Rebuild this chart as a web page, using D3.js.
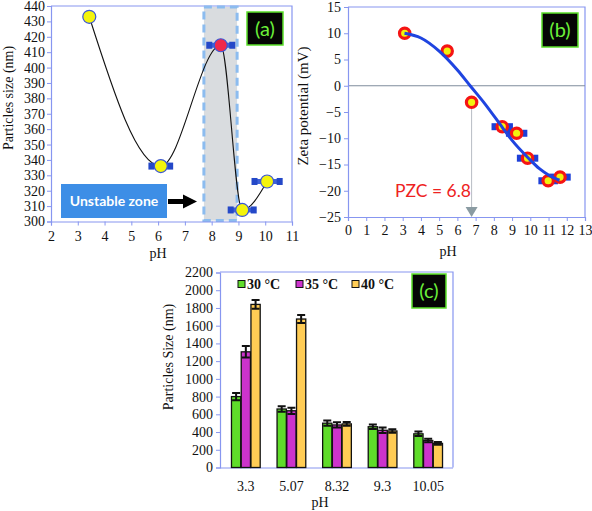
<!DOCTYPE html>
<html><head><meta charset="utf-8">
<script src="https://cdn.jsdelivr.net/npm/d3@7"></script>
<style>
body{margin:0;background:#fff;}
svg{display:block;}
</style></head>
<body>
<svg id="c" width="592" height="511"></svg>
<script>
// ---------- Panel (a) data ----------
const aPH = [3.43, 6.10, 8.34, 9.14, 10.07];
const aSize = [433, 336, 414.5, 307.5, 326];
const aErr = [0, 0.35, 0.43, 0.43, 0.47];
const aRed = [false, false, true, false, false];
const aXTicks = [2,3,4,5,6,7,8,9,10,11];
const aYTicks = [300,310,320,330,340,350,360,370,380,390,400,410,420,430,440];
const aZone = [7.71, 8.95];

// ---------- Panel (b) data ----------
const bPH = [3.11, 5.44, 6.78, 8.46, 9.25, 9.85, 10.98, 11.63];
const bZeta = [10, 6.6, -3.15, -7.8, -9.05, -13.8, -18.1, -17.4];
const bErr = [0, 0, 0, 0.45, 0.45, 0.45, 0.4, 0.45];
const bFitPH = [3.1, 4, 5, 6, 6.7, 7.5, 8.5, 9, 9.9, 10.5, 11, 11.6];
const bFitZeta = [10, 9.1, 6.6, 3, 0, -3.4, -8.1, -10.4, -13.8, -15.8, -17, -18];
const bXTicks = [0,1,2,3,4,5,6,7,8,9,10,11,12,13];
const bYTicks = [15,10,5,0,-5,-10,-15,-20,-25];
const bPZC = 6.78;

// ---------- Panel (c) data ----------
const cCats = ["3.3","5.07","8.32","9.3","10.05"];
const cSeries = ["30 °C","35 °C","40 °C"];
const c30 = [800, 660, 500, 460, 380];
const c35 = [1305, 640, 480, 420, 305];
const c40 = [1840, 1675, 492, 412, 272];
const c30err = [40, 30, 30, 25, 25];
const c35err = [65, 35, 30, 30, 20];
const c40err = [50, 45, 20, 20, 15];
const cYTicks = [0,200,400,600,800,1000,1200,1400,1600,1800,2000,2200];

const SERIF = '"Liberation Serif","Times New Roman",serif';
const SANS = 'Lato,"Open Sans",sans-serif';
const axisCol = "#8796f0";
const svg = d3.select("#c");

function styleAxis(g){
  g.attr("font-family", SERIF).attr("font-size", 14);
  g.select(".domain").attr("stroke", axisCol).attr("stroke-width",1.2);
  g.selectAll(".tick line").attr("stroke", axisCol);
  g.selectAll(".tick text").attr("fill","#111").style("font-family",SERIF).style("font-size","14px");
}
function txt(x,y,t,size,opts={}){
  const e = svg.append("text").attr("x",x).attr("y",y).text(t)
    .style("font-family",opts.sans?SANS:SERIF).style("font-size",size+"px")
    .attr("fill",opts.fill||"#111").attr("text-anchor",opts.anchor||"middle");
  if(opts.bold) e.style("font-weight","bold");
  if(opts.rot) e.attr("x",null).attr("y",null).attr("transform",`translate(${x},${y}) rotate(-90)`);
  return e;
}
function labelBox(x,y,w,h,t){
  svg.append("rect").attr("x",x).attr("y",y).attr("width",w).attr("height",h)
    .attr("fill","#050505").attr("stroke","#5be02a").attr("stroke-width",1.5);
  txt(x+w/2,y+h/2+7,t,20,{sans:true,fill:"#6cf03a"});
}

// ================= Panel (a) =================
{
  const x = d3.scaleLinear().domain([2,11]).range([51,292]);
  const y = d3.scaleLinear().domain([300,440]).range([221.5,6]);
  svg.append("path").attr("d",`M${x(2)},${y(440)}H${x(11)}V${y(300)}`).attr("fill","none").attr("stroke",axisCol).attr("stroke-width",1.2);
  svg.append("rect").attr("x",x(aZone[0])).attr("y",y(440)+1).attr("width",x(aZone[1])-x(aZone[0])).attr("height",y(300)-y(440)-2)
    .attr("fill","#d9dcdf").attr("stroke","#8cbcef").attr("stroke-width",3).attr("stroke-dasharray","8,5");
  const gx = svg.append("g").attr("transform",`translate(0,${y(300)})`)
    .call(d3.axisBottom(x).tickValues(aXTicks).tickSize(4).tickPadding(6));
  styleAxis(gx);
  const gy = svg.append("g").attr("transform",`translate(${x(2)},0)`)
    .call(d3.axisLeft(y).tickValues(aYTicks).tickSize(4).tickPadding(2));
  styleAxis(gy);
  const pts = aPH.map((p,i)=>[x(p),y(aSize[i])]);
  svg.append("path").attr("d",d3.line().curve(d3.curveMonotoneX)(pts))
    .attr("fill","none").attr("stroke","#111").attr("stroke-width",1.1);
  aPH.forEach((p,i)=>{
    if(!aErr[i]) return;
    const yy=y(aSize[i]);
    svg.append("line").attr("x1",x(p-aErr[i])).attr("x2",x(p+aErr[i])).attr("y1",yy).attr("y2",yy)
      .attr("stroke","#3f63d8").attr("stroke-width",5);
    [p-aErr[i],p+aErr[i]].forEach(e=>svg.append("rect").attr("x",x(e)-3).attr("y",yy-3.5).attr("width",6).attr("height",7).attr("fill","#2448c8"));
  });
  aPH.forEach((p,i)=>{
    svg.append("circle").attr("cx",x(p)).attr("cy",y(aSize[i])).attr("r",6.5)
      .attr("fill",aRed[i]?"#f0284a":"#f4f40c").attr("stroke","#3b57d6").attr("stroke-width",1.2);
  });
  svg.append("rect").attr("x",61).attr("y",184).attr("width",106).attr("height",34).attr("fill","#3d8ee6");
  txt(114,206,"Unstable zone",14,{sans:true,bold:true,fill:"#fff"});
  svg.append("line").attr("x1",168).attr("x2",186).attr("y1",201.5).attr("y2",201.5).attr("stroke","#000").attr("stroke-width",5);
  svg.append("path").attr("d","M183,194.5L197,201.5L183,208.5Z").attr("fill","#000");
  labelBox(247,12,36,33,"(a)");
  txt(13,98,"Particles size (nm)",14,{rot:true});
  txt(158,258,"pH",14);
}

// ================= Panel (b) =================
{
  const x = d3.scaleLinear().domain([0,13]).range([348,585]);
  const y = d3.scaleLinear().domain([-25,15]).range([217,7]);
  svg.append("path").attr("d",`M${x(0)},${y(15)}H${x(13)}V${y(-25)}`).attr("fill","none").attr("stroke",axisCol).attr("stroke-width",1.2);
  svg.append("line").attr("x1",x(0)).attr("x2",x(13)).attr("y1",y(0)).attr("y2",y(0)).attr("stroke","#7f8c9c").attr("stroke-width",1.2);
  const gx = svg.append("g").attr("transform",`translate(0,${y(-25)})`)
    .call(d3.axisBottom(x).tickValues(bXTicks).tickSize(4).tickPadding(4));
  styleAxis(gx);
  const gy = svg.append("g").attr("transform",`translate(${x(0)},0)`)
    .call(d3.axisLeft(y).tickValues(bYTicks).tickSize(4).tickPadding(3));
  styleAxis(gy);
  const pi = 2;
  svg.append("line").attr("x1",x(bPZC)).attr("x2",x(bPZC)).attr("y1",y(bZeta[pi])).attr("y2",y(-25)-8)
    .attr("stroke","#b8bcc4").attr("stroke-width",1);
  svg.append("path").attr("d",`M${x(bPZC)-6},${y(-25)-10}H${x(bPZC)+6}L${x(bPZC)},${y(-25)}Z`).attr("fill","#8a9ba2");
  txt(395,197,"PZC = 6.8",17.5,{sans:true,fill:"#ee2222",anchor:"start"});
  bPH.forEach((p,i)=>{
    if(!bErr[i]) return;
    const yy=y(bZeta[i]);
    svg.append("line").attr("x1",x(p-bErr[i])).attr("x2",x(p+bErr[i])).attr("y1",yy).attr("y2",yy)
      .attr("stroke","#2a4ee0").attr("stroke-width",5);
    [p-bErr[i],p+bErr[i]].forEach(e=>svg.append("rect").attr("x",x(e)-2.5).attr("y",yy-3.5).attr("width",5).attr("height",7).attr("fill","#1d3fd8"));
  });
  bPH.forEach((p,i)=>{
    svg.append("circle").attr("cx",x(p)).attr("cy",y(bZeta[i])).attr("r",5.2)
      .attr("fill","#f2f20e").attr("stroke","#f51414").attr("stroke-width",3.2);
  });
  svg.append("path").attr("d",d3.line().curve(d3.curveMonotoneX)(bFitPH.map((p,i)=>[x(p),y(bFitZeta[i])])))
    .attr("fill","none").attr("stroke","#1f44e0").attr("stroke-width",3);
  labelBox(542,13,36,34,"(b)");
  txt(308,106,"Zeta potential (mV)",15,{rot:true});
  txt(448,256,"pH",14);
}

// ================= Panel (c) =================
{
  const x = d3.scaleBand().domain(cCats).range([221,453]).paddingInner(0.37).paddingOuter(0.23);
  const xs = d3.scaleBand().domain(cSeries).range([0,x.bandwidth()]).paddingInner(0.05);
  const y = d3.scaleLinear().domain([0,2200]).range([467.5,272.5]);
  const cols = ["#5fdc2a","#cc33cc","#ffcc55"];
  const vals = [c30,c35,c40], errs=[c30err,c35err,c40err];
  svg.append("path").attr("d",`M220,272H453V${y(0)}`).attr("fill","none").attr("stroke",axisCol).attr("stroke-width",1.2);
  const gy = svg.append("g").attr("transform",`translate(220,0)`)
    .call(d3.axisLeft(y).tickValues(cYTicks).tickFormat(d3.format("d")).tickSize(4).tickPadding(3));
  styleAxis(gy);
  const gx = svg.append("g").attr("transform",`translate(0,${y(0)})`)
    .call(d3.axisBottom(x).tickSize(0).tickPadding(14));
  styleAxis(gx);
  gx.select(".domain").attr("d",`M220,0.5H453`);
  cSeries.forEach((s,si)=>{
    cCats.forEach((c,ci)=>{
      const bx = x(c)+xs(s), v=vals[si][ci];
      svg.append("rect").attr("x",bx).attr("y",y(v)).attr("width",xs.bandwidth()).attr("height",y(0)-y(v))
        .attr("fill",cols[si]).attr("stroke","#111").attr("stroke-width",1.3);
      const cx = bx+xs.bandwidth()/2, e=errs[si][ci];
      svg.append("path").attr("d",`M${cx},${y(v+e)}V${y(v-e)}M${cx-4},${y(v+e)}H${cx+4}M${cx-4},${y(v-e)}H${cx+4}`)
        .attr("stroke","#111").attr("stroke-width",2).attr("fill","none");
    });
  });
  const lx=[238,296,352];
  cSeries.forEach((s,i)=>{
    svg.append("rect").attr("x",lx[i]).attr("y",280.5).attr("width",7).attr("height",7).attr("fill",cols[i]).attr("stroke","#111").attr("stroke-width",1);
    txt(lx[i]+9,289,s,14,{bold:true,anchor:"start"});
  });
  labelBox(412,274,34,34,"(c)");
  txt(173,357,"Particles Size (nm)",14,{rot:true});
  txt(320,507,"pH",14);
}
</script>
</body></html>
